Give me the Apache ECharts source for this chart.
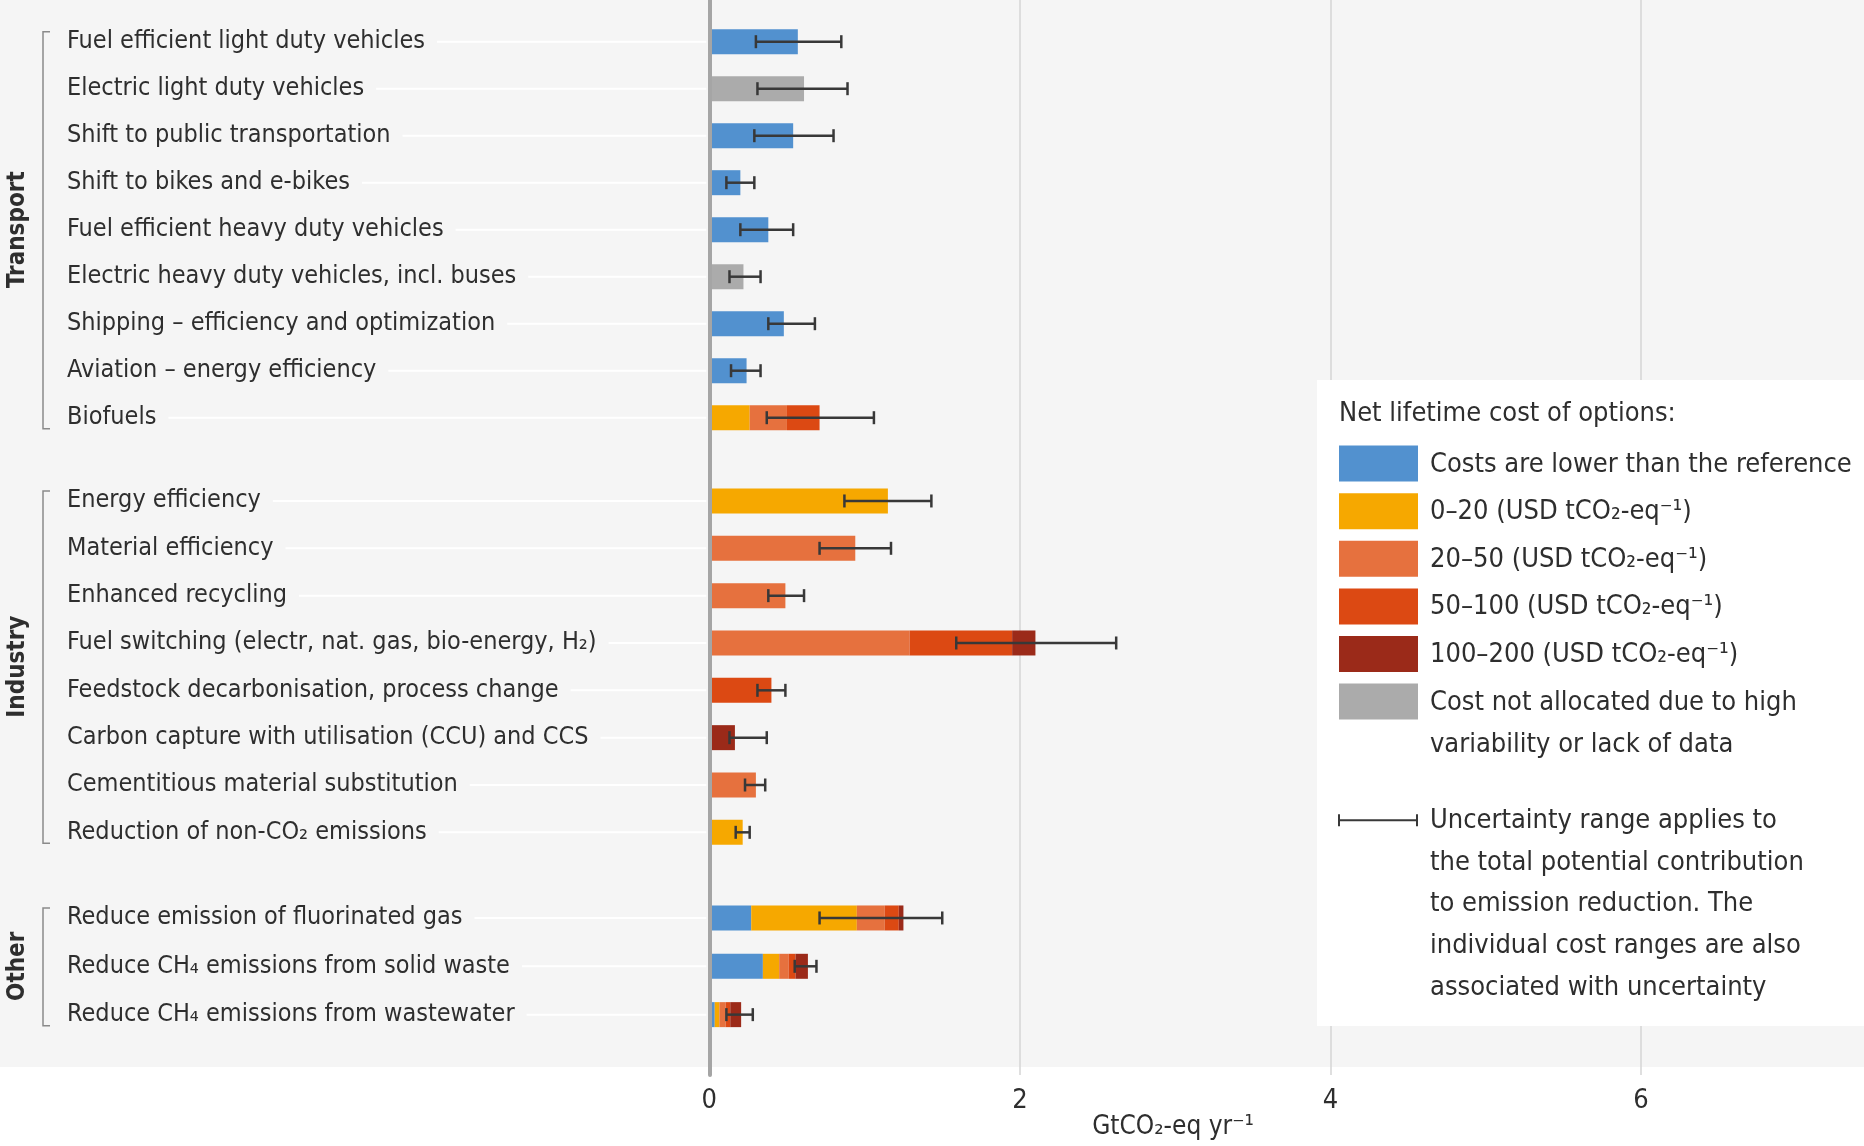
<!DOCTYPE html>
<html>
<head>
<meta charset="utf-8">
<title>Mitigation options: transport, industry, other</title>
<script src="https://cdn.jsdelivr.net/npm/echarts@6/dist/echarts.min.js"></script>
<style>
  html, body { margin: 0; padding: 0; background: #fff; }
  #main { width: 1864px; height: 1146px; }
</style>
</head>
<body>
<div id="main"></div>
<script>
// options, top to bottom
var categories = [
  'Fuel efficient light duty vehicles',
  'Electric light duty vehicles',
  'Shift to public transportation',
  'Shift to bikes and e-bikes',
  'Fuel efficient heavy duty vehicles',
  'Electric heavy duty vehicles, incl. buses',
  'Shipping – efficiency and optimization',
  'Aviation – energy efficiency',
  'Biofuels',
  'Energy efficiency',
  'Material efficiency',
  'Enhanced recycling',
  'Fuel switching (electr, nat. gas, bio-energy, H₂)',
  'Feedstock decarbonisation, process change',
  'Carbon capture with utilisation (CCU) and CCS',
  'Cementitious material substitution',
  'Reduction of non-CO₂ emissions',
  'Reduce emission of fluorinated gas',
  'Reduce CH₄ emissions from solid waste',
  'Reduce CH₄ emissions from wastewater'
];
var groupNames = ['Transport', 'Industry', 'Other'];
var groupSizes = [9, 8, 3];

// potential per cost class, GtCO2-eq/yr (segments are stacked)
var costLower        = [0.57, null, 0.54, 0.20, 0.38, null, 0.48, 0.24, null,   null, null, null, null, null, null, null, null,    0.27, 0.345, 0.035];
var cost0to20        = [null, null, null, null, null, null, null, null, 0.26,   1.15, null, null, null, null, null, null, 0.215,   0.68, 0.105, 0.03];
var cost20to50       = [null, null, null, null, null, null, null, null, 0.24,   null, 0.94, 0.49, 1.29, null, null, 0.30, null,    0.18, 0.06, 0.04];
var cost50to100      = [null, null, null, null, null, null, null, null, 0.21,   null, null, null, 0.66, 0.40, null, null, null,    0.09, 0.045, 0.03];
var cost100to200     = [null, null, null, null, null, null, null, null, null,   null, null, null, 0.15, null, 0.165, null, null,   0.03, 0.08, 0.07];
var costNotAllocated = [null, 0.61, null, null, null, 0.22, null, null, null,   null, null, null, null, null, null, null, null,    null, null, null];

// uncertainty range of the total potential
var rangeLow  = [0.30, 0.31, 0.29, 0.11, 0.20, 0.13, 0.38, 0.14, 0.37,   0.87, 0.71, 0.38, 1.59, 0.31, 0.13, 0.23, 0.17,   0.71, 0.55, 0.11];
var rangeHigh = [0.85, 0.89, 0.80, 0.29, 0.54, 0.33, 0.68, 0.33, 1.06,   1.43, 1.17, 0.61, 2.62, 0.49, 0.37, 0.36, 0.26,   1.50, 0.69, 0.28];

var classNames = [
  'Costs are lower than the reference',
  '0–20 (USD tCO₂-eq⁻¹)',
  '20–50 (USD tCO₂-eq⁻¹)',
  '50–100 (USD tCO₂-eq⁻¹)',
  '100–200 (USD tCO₂-eq⁻¹)',
  'Cost not allocated due to high\nvariability or lack of data'
];
var classValues = [costLower, cost0to20, cost20to50, cost50to100, cost100to200, costNotAllocated];
var classColors = ['#5291cf', '#f6a800', '#e6713e', '#dc4913', '#9b2a19', '#ababab'];
var rangeNote = 'Uncertainty range applies to\nthe total potential contribution\nto emission reduction. The\nindividual cost ranges are also\nassociated with uncertainty';

// layout
var FONT = '"DejaVu Sans Condensed", "Liberation Sans", sans-serif';
var TEXT = '#2e2e2e';
var ZERO_X = 709.3, PX_PER_UNIT = 155.3, X_MAX = 8;
var LABEL_X = 67;
var LABEL_SIZE = 25;
var groupBoxes = [
  { top: 18.2, height: 423 },
  { top: 477.3, height: 378.7 },
  { top: 893.8, height: 145 }
];

var measureCtx = document.createElement('canvas').getContext('2d');
measureCtx.font = LABEL_SIZE + 'px ' + FONT;
function textWidth(s) { return measureCtx.measureText(s).width; }

var chart = echarts.init(document.getElementById('main'));

var grids = [{ left: ZERO_X, width: X_MAX * PX_PER_UNIT, top: 0, bottom: 71, outerBoundsMode: 'none' }];
var xAxes = [{
  type: 'value', gridIndex: 0, min: 0, max: X_MAX, interval: 2,
  axisLine: { show: false }, axisTick: { show: false },
  axisLabel: { color: TEXT, fontSize: 27, fontFamily: FONT, margin: 12 },
  splitLine: { lineStyle: { color: '#d5d5d5', width: 1.5 } }
}];
var yAxes = [{
  type: 'value', gridIndex: 0, min: 0, max: 1, z: 10,
  axisLine: { show: true, lineStyle: { color: '#a5a5a5', width: 4 } },
  axisTick: { show: false }, axisLabel: { show: false }, splitLine: { show: false }
}];
var series = [];

var start = 0;
groupNames.forEach(function (gName, g) {
  var n = groupSizes[g];
  var end = start + n;
  var labels = categories.slice(start, end);
  var idx = g + 1;

  grids.push({ left: ZERO_X, width: X_MAX * PX_PER_UNIT, top: groupBoxes[g].top, height: groupBoxes[g].height, outerBoundsMode: 'none' });
  xAxes.push({ type: 'value', gridIndex: idx, min: 0, max: X_MAX, show: false });
  yAxes.push({
    type: 'category', gridIndex: idx, data: labels, inverse: true,
    axisLine: { show: false }, axisTick: { show: false }, splitLine: { show: false },
    axisLabel: { interval: 0, align: 'left', margin: ZERO_X - LABEL_X, color: TEXT, fontSize: LABEL_SIZE, fontFamily: FONT, padding: [7, 0, 0, 0] },
    name: gName, nameLocation: 'middle', nameRotate: 90, nameGap: 680,
    nameTextStyle: { color: TEXT, fontSize: 24, fontWeight: 'bold', fontFamily: FONT }
  });

  // white leader lines between label and zero line
  series.push({
    type: 'custom', xAxisIndex: idx, yAxisIndex: idx, silent: true, clip: false, z: 1,
    data: labels.map(function (_, i) { return [i]; }),
    encode: { y: 0 },
    renderItem: function (params, api) {
      var i = api.value(0);
      var p = api.coord([0, i]);
      var x0 = LABEL_X + textWidth(labels[i]) + 12;
      return { type: 'line', shape: { x1: x0, y1: p[1], x2: p[0] - 3, y2: p[1] },
        style: { stroke: '#ffffff', lineWidth: 2 } };
    }
  });

  // group bracket
  series.push({
    type: 'custom', xAxisIndex: idx, yAxisIndex: idx, silent: true, clip: false,
    data: [[0]], encode: { y: 0 },
    renderItem: function (params, api) {
      var y0 = api.coord([0, 0])[1] - 10;
      var y1 = api.coord([0, n - 1])[1] + 11;
      return { type: 'polyline', shape: { points: [[50, y0], [43, y0], [43, y1], [50, y1]] },
        style: { stroke: '#8a8a8a', lineWidth: 1.5, fill: null } };
    }
  });

  classValues.forEach(function (vals, c) {
    series.push({
      type: 'bar', name: classNames[c], xAxisIndex: idx, yAxisIndex: idx,
      stack: 'g' + g, barWidth: 25,
      data: vals.slice(start, end),
      itemStyle: { color: classColors[c] }
    });
  });

  // uncertainty ranges
  series.push({
    type: 'custom', xAxisIndex: idx, yAxisIndex: idx, z: 5,
    data: labels.map(function (_, i) { return [rangeLow[start + i], rangeHigh[start + i], i]; }),
    encode: { x: [0, 1], y: 2 },
    renderItem: function (params, api) {
      var a = api.coord([api.value(0), api.value(2)]);
      var b = api.coord([api.value(1), api.value(2)]);
      var st = { stroke: '#383838', lineWidth: 2.5 };
      return { type: 'group', children: [
        { type: 'line', shape: { x1: a[0], y1: a[1], x2: b[0], y2: b[1] }, style: st },
        { type: 'line', shape: { x1: a[0], y1: a[1] - 6.5, x2: a[0], y2: a[1] + 6.5 }, style: st },
        { type: 'line', shape: { x1: b[0], y1: b[1] - 6.5, x2: b[0], y2: b[1] + 6.5 }, style: st }
      ] };
    }
  });

  start = end;
});

// legend box
var legendEls = [
  { type: 'rect', z: 50, shape: { x: 1317, y: 380, width: 547, height: 646 }, style: { fill: '#ffffff' } },
  { type: 'text', z: 51, style: { text: 'Net lifetime cost of options:', x: 1339, y: 414,
      fontSize: 27, fontFamily: FONT, fill: TEXT, verticalAlign: 'middle' } }
];
classNames.forEach(function (name, k) {
  var cy = 463.6 + k * 47.6;
  legendEls.push({ type: 'rect', z: 51, shape: { x: 1339, y: cy - 18, width: 79, height: 36 }, style: { fill: classColors[k] } });
  legendEls.push({ type: 'text', z: 51, style: { text: name, x: 1430, y: cy - 20, lineHeight: 42,
      fontSize: 27, fontFamily: FONT, fill: TEXT, verticalAlign: 'top' } });
});
var ey = 820.3;
var barSt = { stroke: '#383838', lineWidth: 2 };
legendEls.push({ type: 'line', z: 51, shape: { x1: 1339, y1: ey, x2: 1417, y2: ey }, style: barSt });
legendEls.push({ type: 'line', z: 51, shape: { x1: 1339, y1: ey - 6, x2: 1339, y2: ey + 6 }, style: barSt });
legendEls.push({ type: 'line', z: 51, shape: { x1: 1417, y1: ey - 6, x2: 1417, y2: ey + 6 }, style: barSt });
legendEls.push({ type: 'text', z: 51, style: { text: rangeNote, x: 1430, y: ey - 20, lineHeight: 41.6,
    fontSize: 27, fontFamily: FONT, fill: TEXT, verticalAlign: 'top' } });

var graphics = [
  { type: 'rect', z: -100, shape: { x: 0, y: 0, width: 1864, height: 1067 }, style: { fill: '#f5f5f5' } },
  { type: 'text', z: 5, style: { text: 'GtCO₂-eq yr⁻¹', x: 1173, y: 1127, fontSize: 26, fontFamily: FONT,
      fill: TEXT, align: 'center', verticalAlign: 'middle' } }
].concat(legendEls);

chart.setOption({
  backgroundColor: '#ffffff',
  animation: false,
  grid: grids,
  xAxis: xAxes,
  yAxis: yAxes,
  graphic: { elements: graphics },
  series: series
});
</script>
</body>
</html>
